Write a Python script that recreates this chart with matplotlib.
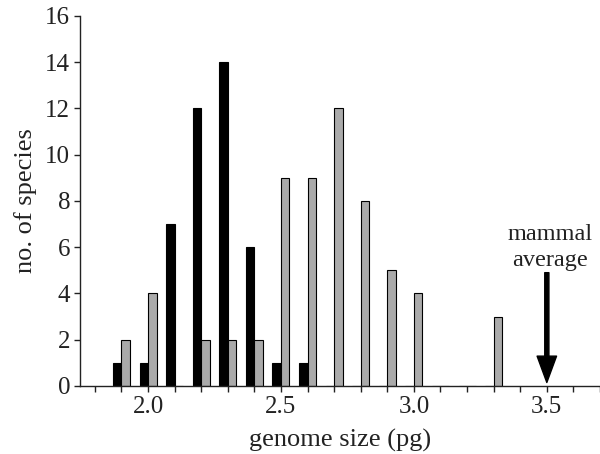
import matplotlib
matplotlib.use("Agg")
from matplotlib import pyplot as plt
from matplotlib.ticker import MultipleLocator, FormatStrFormatter

plt.rcParams['font.family'] = ['Liberation Serif', 'DejaVu Serif']

# genome size bins (pg) and counts per group
bins = [1.9, 2.0, 2.1, 2.2, 2.3, 2.4, 2.5, 2.6, 2.7, 2.8, 2.9, 3.0, 3.1, 3.2, 3.3]
black_counts = [1, 1, 7, 12, 14, 6, 1, 1, 0, 0, 0, 0, 0, 0, 0]
grey_counts = [2, 4, 0, 2, 2, 2, 9, 9, 12, 8, 5, 4, 0, 0, 3]
mammal_avg = 3.5

fig = plt.figure(figsize=(6, 4.54), dpi=100)
ax = fig.add_axes([0.1333, 0.1498, 0.8667, 0.815])

w = 0.032
ax.bar([b - w / 2 for b in bins], black_counts, width=w, color='black',
       edgecolor='black', linewidth=0.8)
ax.bar([b + w / 2 for b in bins], grey_counts, width=w, color='#aaaaaa',
       edgecolor='black', linewidth=0.8)

# arrow marking the mammal average
ax.annotate('', xy=(mammal_avg, 0.15), xytext=(mammal_avg, 4.9),
            arrowprops=dict(facecolor='black', edgecolor='black',
                            width=3, headwidth=14, headlength=19))
ax.text(3.512, 6.0, 'mammal\naverage', ha='center', va='center',
        fontsize=17.5, linespacing=1.3, color='#222222')

ax.set_xlim(1.744, 3.70)
ax.set_ylim(0, 16)
ax.set_yticks(range(0, 17, 2))
ax.xaxis.set_major_locator(MultipleLocator(0.5))
ax.xaxis.set_minor_locator(MultipleLocator(0.1))
ax.xaxis.set_major_formatter(FormatStrFormatter('%.1f'))
ax.tick_params(axis='both', labelsize=18, direction='out', length=4,
               width=1, colors='#222222', pad=3)
ax.tick_params(axis='x', which='minor', length=4, width=1, colors='#222222')

for side in ['top', 'right']:
    ax.spines[side].set_visible(False)
for side in ['left', 'bottom']:
    ax.spines[side].set_linewidth(1)
    ax.spines[side].set_color('#222222')

ax.set_xlabel('genome size (pg)', fontsize=19, labelpad=8, color='#222222')
ax.set_ylabel('no. of species', fontsize=19, labelpad=6, color='#222222')

plt.savefig('out.png', dpi=100)
